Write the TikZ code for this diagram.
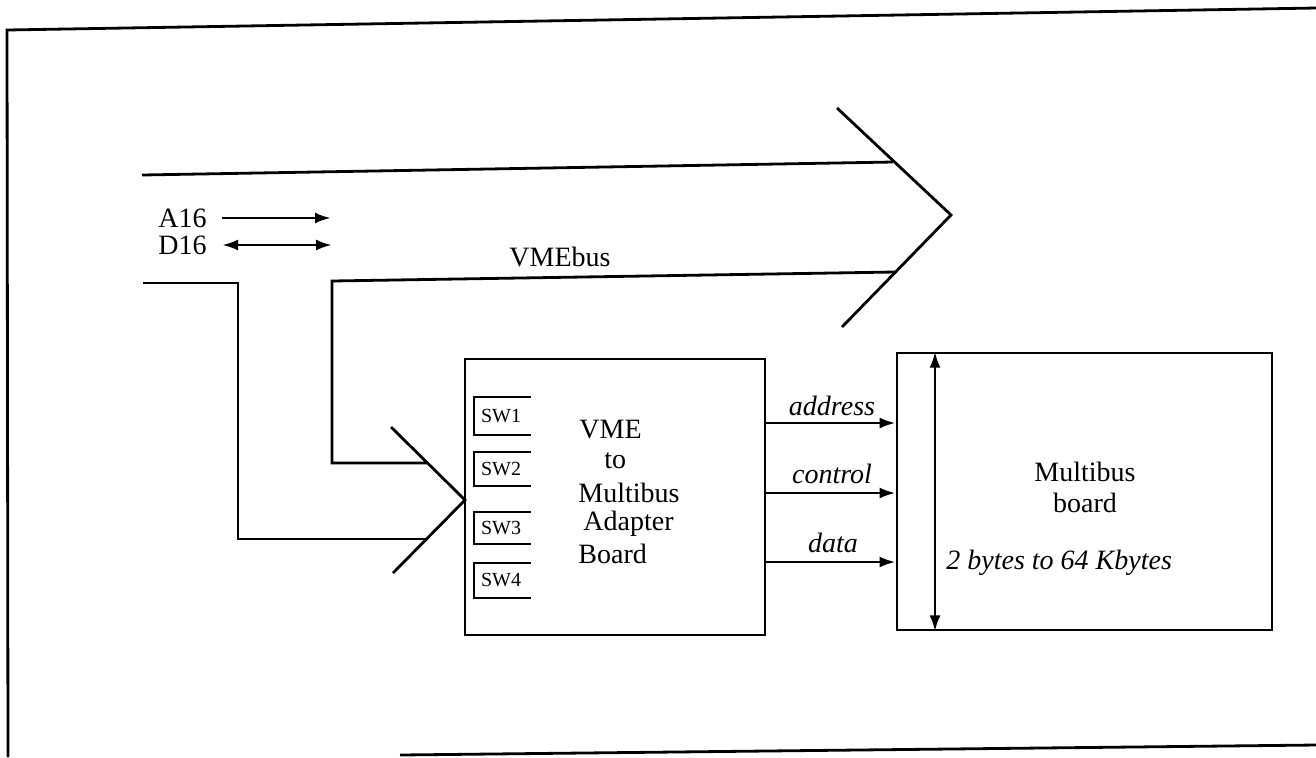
\documentclass[tikz,border=0pt]{standalone}
\usepackage{fontspec}
\setmainfont{Liberation Serif}
\usetikzlibrary{arrows.meta}
\begin{document}
\begin{tikzpicture}[x=0.5pt,y=-0.5pt,line width=1.4pt,line join=miter,
  lbl/.style={font=\fontsize{14}{16}\selectfont,inner sep=0pt},
  ilbl/.style={font=\fontsize{14}{16}\selectfont\itshape,inner sep=0pt},
  swlbl/.style={font=\fontsize{10}{12}\selectfont,inner sep=0pt},
  board/.style={draw,line width=1.4pt,inner sep=0pt},
  arr/.style={-{Latex[length=8pt,width=5.5pt]}},
  darr/.style={{Latex[length=8pt,width=5.5pt]}-{Latex[length=8pt,width=5.5pt]}}]
\useasboundingbox (0,0) rectangle (1316,757);
% outer frame
\coordinate (ftr) at (1316,8);
\coordinate (ftl) at (7,30);
\coordinate (fbl) at (8,757);
\coordinate (fb1) at (400,755);
\coordinate (fb2) at (1316,745);
\draw (ftr) -- (ftl) -- (fbl);
\draw (fb1) -- (fb2);
% VMEbus big arrow
\coordinate (vt) at (837,108);
\coordinate (vj1) at (893,162);
\coordinate (vtip) at (951,215);
\coordinate (vj2) at (895,272);
\coordinate (vb) at (842,327);
\draw (vt) -- (vtip) -- (vb);
\coordinate (b1s) at (142,175);
\draw (b1s) -- (vj1);
\coordinate (b2s) at (143,283);
\coordinate (b2c) at (238,283);
\coordinate (b2d) at (238,539);
\coordinate (aj2) at (427,539);
\coordinate (b3c) at (332,281);
\coordinate (b3d) at (332,463);
\coordinate (aj1) at (428,463);
\draw (vj2) -- (b3c) -- (b3d) -- (aj1);
\draw (b2s) -- (b2c) -- (b2d) -- (aj2);
% adapter V
\coordinate (at) at (391,427);
\coordinate (atip) at (465,500);
\coordinate (ab) at (393,573);
\draw (at) -- (atip) -- (ab);
\node[lbl] (vmebus) at (560,257) {VMEbus};
% A16 / D16
\node[lbl,anchor=west] (a16) at (157,218) {A16};
\node[lbl,anchor=west] (d16) at (157,245) {D16};
\coordinate (a16e) at (331,218);
\coordinate (d16e) at (332,245);
\draw[arr] ([xshift=7pt]a16.east) -- (a16e);
\draw[darr] ([xshift=7pt]d16.east) -- (d16e);
% adapter board
\node[board,minimum width=150pt,minimum height=138pt] (adp) at (615,497) {};
\node[lbl,anchor=west] (t1) at (578,430) {VME};
\node[lbl,anchor=west] (t2) at (603,461) {to};
\node[lbl,anchor=west] (t3) at (577,493) {Multibus};
\node[lbl,anchor=west] (t4) at (582,524) {Adapter};
\node[lbl,anchor=west] (t5) at (577,554) {Board};
% switches
\draw[line width=1.1pt] (531,397) -| (474,435) -- (531,435);
\draw[line width=1.1pt] (531,452) -| (474,486) -- (531,486);
\draw[line width=1.1pt] (531,512) -| (474,544) -- (531,544);
\draw[line width=1.1pt] (531,563) -| (474,598) -- (531,598);
\node[swlbl] (sw1) at (501,416) {SW1};
\node[swlbl] (sw2) at (501,469) {SW2};
\node[swlbl] (sw3) at (501,528) {SW3};
\node[swlbl] (sw4) at (501,580) {SW4};
% multibus board
\node[board,minimum width=187.5pt,minimum height=138.5pt] (mb) at (1084.5,491.5) {};
\node[lbl] (mbt1) at (1085,472) {Multibus};
\node[lbl] (mbt2) at (1085,503) {board};
\node[ilbl,anchor=west] (size) at (945,563) {2 bytes to 64 Kbytes};
\coordinate (xk) at (935,0);
\draw[darr] (mb.north -| xk) -- (mb.south -| xk);
% address/control/data
\coordinate (ya) at (0,423);
\coordinate (yc) at (0,493);
\coordinate (yd) at (0,562);
\draw[arr] (adp.east |- ya) -- (mb.west |- ya);
\draw[arr] (adp.east |- yc) -- (mb.west |- yc);
\draw[arr] (adp.east |- yd) -- (mb.west |- yd);
\node[ilbl] (la) at (832,406) {address};
\node[ilbl] (lc) at (832,474) {control};
\node[ilbl] (ld) at (833,543) {data};
\end{tikzpicture}
\end{document}
